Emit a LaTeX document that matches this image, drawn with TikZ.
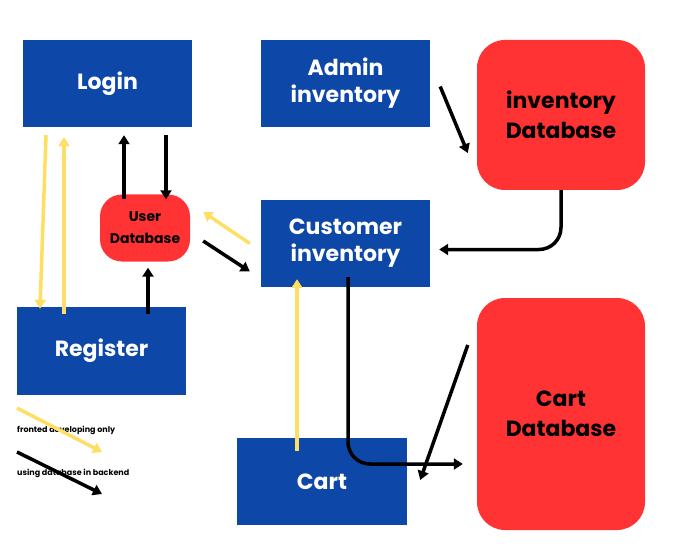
\documentclass[tikz,border=0pt]{standalone}
\usepackage{fontspec}
\setmainfont{Poppins}
\usetikzlibrary{arrows.meta,positioning}
\definecolor{boxblue}{HTML}{0D47A8}
\definecolor{dbred}{HTML}{FF3333}
\definecolor{fronty}{HTML}{FFDF63}
\tikzset{
	page/.style={
		rectangle,
		fill=boxblue,
		text=white,
		font=\fontsize{22}{27}\selectfont\bfseries,
		align=center,
		inner sep=0pt
	},
	store/.style={
		rectangle,
		rounded corners=28pt,
		fill=dbred,
		text=black,
		font=\fontsize{22}{30}\selectfont\bfseries,
		align=center,
		inner sep=0pt
	},
	backend/.style={
		-{Triangle[length=9pt,width=11pt]},
		line width=3.5pt,
		black
	},
	frontend/.style={
		-{Triangle[length=9pt,width=11pt]},
		line width=3.5pt,
		fronty
	}
}
\begin{document}
\begin{tikzpicture}[x=1pt,y=-1pt]
\useasboundingbox[fill=white] (0,0) rectangle (677,556);
% pages
\node [page, minimum width=169pt, minimum height=87pt] (Login) at (107.5,83.5) {Login};
\node [page, minimum width=169pt, minimum height=87pt] (Admin) at (345.5,83.5) {Admin\\inventory};
\node [page, minimum width=169pt, minimum height=87pt] (Customer) at (345.5,243.5) {Customer\\inventory};
\node [page, minimum width=169pt, minimum height=88pt] (Register) at (101.5,351) {Register};
\node [page, minimum width=170pt, minimum height=87pt] (Cart) at (322,481.5) {Cart};
% databases
\node [store, minimum width=168pt, minimum height=150pt] (InvDB) at (561,115) {inventory\\Database};
\node [store, minimum width=168pt, minimum height=232pt] (CartDB) at (561,414) {Cart\\Database};
\node [store, rounded corners=22pt, minimum width=90pt, minimum height=67pt,
	font=\fontsize{14}{22}\selectfont\bfseries] (UserDB) at (145,228) {User\\Database};
% login and register
\draw [frontend] ([xshift=-61.5pt,yshift=-8pt]Login.south) -- ([xshift=-61.5pt,yshift=-2pt]Register.north);
\draw [frontend] ([xshift=-37.5pt,yshift=-7pt]Register.north) -- ([xshift=-43.5pt,yshift=-10pt]Login.south);
\draw [backend] ([xshift=-21pt,yshift=-5pt]UserDB.north) -- ([xshift=16.5pt,yshift=-8pt]Login.south);
\draw [backend] ([xshift=58.5pt,yshift=-8pt]Login.south) -- ([xshift=21pt,yshift=-5pt]UserDB.north);
\draw [backend] ([xshift=46.5pt,yshift=-7pt]Register.north) -- ([xshift=3pt,yshift=-6pt]UserDB.south);
% user database and customer
\draw [backend] ([xshift=13pt,yshift=-13pt]UserDB.east) -- ([xshift=-11pt,yshift=-28pt]Customer.west);
\draw [frontend] ([xshift=-11pt]Customer.west) -- ([xshift=13pt,yshift=16pt]UserDB.east);
% inventory flow
\draw [backend] ([xshift=10pt,yshift=-3pt]Admin.east) -- ([xshift=-9pt,yshift=-38pt]InvDB.west);
\draw [backend, rounded corners=22pt] (InvDB.south) |- ([xshift=9pt,yshift=-6pt]Customer.east);
\draw [backend, rounded corners=22pt] ([xshift=2.5pt,yshift=10pt]Customer.south) |- ([xshift=-14pt,yshift=-50pt]CartDB.west);
% cart
\draw [backend] ([xshift=-9pt,yshift=69pt]CartDB.west) -- ([xshift=13pt,yshift=1.5pt]Cart.east);
\draw [frontend] ([xshift=-25pt,yshift=-13pt]Cart.north) -- ([xshift=-48.5pt,yshift=8pt]Customer.south);
% legend
\node [anchor=west, inner sep=0pt, font=\fontsize{8}{10}\selectfont\bfseries] (LegFront) at (17,430) {fronted developing only};
\node [anchor=west, inner sep=0pt, font=\fontsize{8}{10}\selectfont\bfseries] (LegBack) at (17,473) {using database in backend};
\coordinate (LegFrontEnd) at (102,452);
\coordinate (LegBackEnd) at (102,494);
\draw [frontend] ([yshift=22pt]LegFront.west) -- (LegFrontEnd);
\draw [backend] ([yshift=21pt]LegBack.west) -- (LegBackEnd);
\end{tikzpicture}
\end{document}
